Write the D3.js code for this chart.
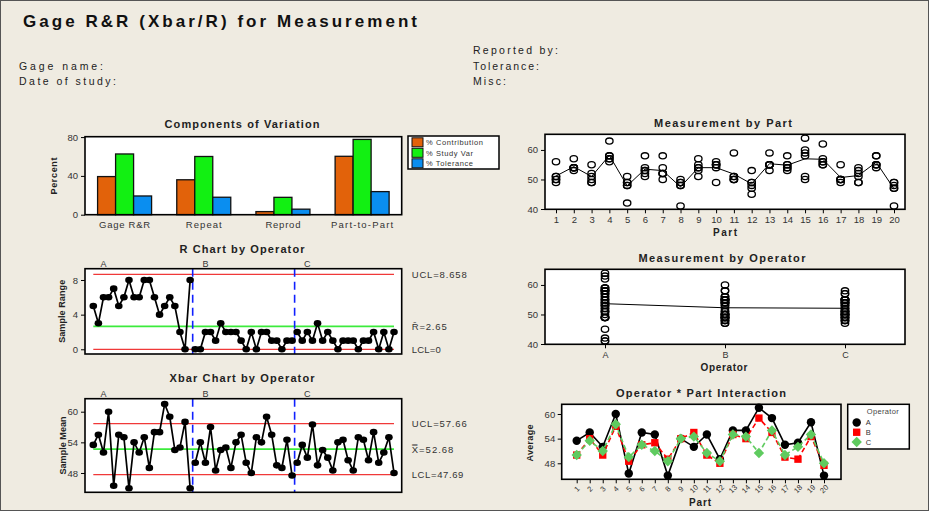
<!DOCTYPE html>
<html><head><meta charset="utf-8">
<script src="https://cdn.jsdelivr.net/npm/d3@7/dist/d3.min.js"></script>
<style>
html,body{margin:0;padding:0;background:#EFEBE1;}
svg{display:block;}
</style></head>
<body>
<svg id="chart" width="929" height="511"></svg>
<script>
// ================= DATA =================
const operators = ["A", "B", "C"];
const parts = [1,2,3,4,5,6,7,8,9,10,11,12,13,14,15,16,17,18,19,20];
const partTickLabels = ["1","2","3","4","5","6","7","8","9","10","11","12","13","14","15","16","17","18","19","20"];

const componentCategories = ["Gage R&R", "Repeat", "Reprod", "Part-to-Part"];
const componentSeries = ["% Contribution", "% Study Var", "% Tolerance"];
const pctContribution = [39.3, 36.0, 3.2, 60.2];
const pctStudyVar     = [62.6, 60.0, 17.9, 77.6];
const pctTolerance    = [19.3, 18.0, 5.7, 23.8];
const componentTicks = [0, 40, 80];

// individual measurements (2 trials per operator and part)
const trial1A = [51,54,49,57,42,53,52,41,51,49,51,45,53,54,59,56,50,52,58,41];
const trial2A = [56,57,55,63,49,58,58,49,57,55,59,53,59,58,64,62,55,54,58,49];
const trial1B = [50,54,49,56,48,51,52,48,53,55,50,47,55,53,58,55,49,49,54,47];
const trial2B = [50,54,51,58,49,54,54,50,55,56,50,49,55,55,60,56,50,49,55,48];
const trial1C = [49,53,50,57,48,52,50,48,54,54,50,48,55,54,50,55,50,51,55,47];
const trial2C = [51,54,52,58,51,53,52,49,54,55,51,49,55,55,51,57,50,53,55,49];

// subgroup means and ranges (Xbar / R charts, interaction plot)
const xbarA = [53.5,55.5,52,60,45.5,55.5,55,45,54,52,55,49,56,56,61.5,59,52.5,53,58,45];
const xbarB = [50,54,50,57,48.5,52.5,53,49,54,55.5,50,48,55,54,59,55.5,49.5,49,54.5,47.5];
const xbarC = [50,53.5,51,57.5,49.5,52.5,51,48.5,54,54.5,50.5,48.5,55,54.5,50.5,56,50,52,55,48];
const rangeA = [5,3,6,6,7,5,6,8,6,6,8,8,6,4,5,6,5,2,0,8];
const rangeB = [0,0,2,2,1,3,2,2,2,1,0,2,0,2,2,1,1,0,1,1];
const rangeC = [2,1,2,1,3,1,2,1,0,1,1,1,0,1,1,2,0,2,0,2];

const rUCL = 8.658, rCenter = 2.65, rLCL = 0;
const xUCL = 57.66, xCenter = 52.68, xLCL = 47.69;
const rTicks = [0, 4, 8];
const xbarTicks = [48, 54, 60];
const measTicks = [40, 50, 60];
const interTicks = [48, 54, 60];

// ================= DRAWING =================
const FF = "'Liberation Sans', Arial, Helvetica, sans-serif";
const svg = d3.select("#chart");
svg.append("rect").attr("width", 929).attr("height", 511).attr("fill", "#EFEBE1");
svg.append("rect").attr("x", 0.5).attr("y", 0.5).attr("width", 928).attr("height", 510)
  .attr("fill", "none").attr("stroke", "#555").attr("stroke-width", 1);

function T(x, y, s, o = {}) {
  const t = svg.append("text").attr("x", x).attr("y", y).text(s)
    .attr("font-family", FF).attr("font-size", o.size || 10)
    .attr("font-weight", o.weight || "normal")
    .attr("text-anchor", o.anchor || "start")
    .attr("fill", o.fill || "#222");
  if (o.len) t.attr("textLength", o.len).attr("lengthAdjust", "spacing");
  if (o.rotate) t.attr("transform", `rotate(${o.rotate},${x},${y})`);
  return t;
}
function bg(b) {
  svg.append("rect").attr("x", b.x0).attr("y", b.y0).attr("width", b.x1 - b.x0)
    .attr("height", b.y1 - b.y0).attr("fill", "#fff");
}
function border(b) {
  svg.append("rect").attr("x", b.x0).attr("y", b.y0).attr("width", b.x1 - b.x0)
    .attr("height", b.y1 - b.y0).attr("fill", "none").attr("stroke", "#000").attr("stroke-width", 1.6);
}
function styleAxis(g, size) {
  g.attr("font-family", FF).attr("font-size", size || 9.5);
  g.select(".domain").remove();
  g.selectAll(".tick line").attr("stroke", "#000").attr("stroke-width", 1);
  g.selectAll(".tick text").attr("fill", "#333");
}
function leftAxis(b, y, ticks, pad) {
  const g = svg.append("g").attr("transform", `translate(${b.x0},0)`)
    .call(d3.axisLeft(y).tickValues(ticks).tickSize(4).tickPadding(pad || 3));
  styleAxis(g);
}

// ---------- header ----------
T(23, 27, "Gage R&R (Xbar/R) for Measurement", {size: 17, weight: "bold", len: 394, fill: "#111"});
T(19, 70, "Gage name:", {size: 10.5, len: 84, fill: "#222"});
T(19, 85, "Date of study:", {size: 10.5, len: 97, fill: "#222"});
T(473, 54, "Reported by:", {size: 10.5, len: 85, fill: "#222"});
T(473, 70, "Tolerance:", {size: 10.5, len: 66, fill: "#222"});
T(473, 85, "Misc:", {size: 10.5, len: 33, fill: "#222"});

// ---------- Components of Variation ----------
{
  const b = {x0: 85, y0: 136.7, x1: 401.7, y1: 214.7};
  T(242, 128, "Components of Variation", {size: 11, weight: "bold", anchor: "middle", len: 155});
  bg(b);
  const x = d3.scaleBand().domain(componentCategories).range([b.x0, b.x1]);
  const xs = d3.scaleBand().domain(componentSeries).range([-27, 27]);
  const y = d3.scaleLinear().domain([0, 80.4]).range([b.y1, b.y0]);
  const colors = ["#E2620A", "#12F012", "#0A8EF0"];
  const vals = [pctContribution, pctStudyVar, pctTolerance];
  componentSeries.forEach((s, k) => {
    svg.append("g").selectAll("rect").data(componentCategories).join("rect")
      .attr("x", c => x(c) + x.bandwidth() / 2 + xs(s))
      .attr("width", xs.bandwidth())
      .attr("y", (c, i) => y(vals[k][i]))
      .attr("height", (c, i) => y(0) - y(vals[k][i]))
      .attr("fill", colors[k]).attr("stroke", "#111").attr("stroke-width", 1.3);
  });
  border(b);
  leftAxis(b, y, componentTicks);
  const lens = [51, 36, 35, 62];
  componentCategories.forEach((c, i) =>
    T(x(c) + x.bandwidth() / 2, 228.3, c, {size: 9.5, anchor: "middle", len: lens[i], fill: "#333"}));
  T(57, 176, "Percent", {size: 9, weight: "bold", anchor: "middle", rotate: -90, len: 37, fill: "#222"});
  // legend
  const lb = {x0: 408, y0: 136, x1: 499, y1: 169};
  svg.append("rect").attr("x", lb.x0).attr("y", lb.y0).attr("width", lb.x1 - lb.x0).attr("height", lb.y1 - lb.y0)
    .attr("fill", "#fff").attr("stroke", "#000").attr("stroke-width", 1.5);
  const ly = d3.scalePoint().domain(componentSeries).range([142.3, 163.3]);
  const llen = [57, 47, 47];
  componentSeries.forEach((s, k) => {
    svg.append("rect").attr("x", 412).attr("y", ly(s) - 4.5).attr("width", 11).attr("height", 9)
      .attr("fill", colors[k]).attr("stroke", "#111").attr("stroke-width", 1);
    T(426, ly(s) + 2.7, s, {size: 7.5, len: llen[k], fill: "#333"});
  });
}

// ---------- control charts ----------
const xIdx = d3.scaleLinear().domain([1, 60]).range([93.3, 394]);
function controlChart(b, y, series, ucl, cl, lcl, ticks, title, titleLen, titleY, ylab, ylabLen, labels) {
  T(242, titleY, title, {size: 11, weight: "bold", anchor: "middle", len: titleLen});
  bg(b);
  const xs0 = xIdx(1), xs1 = xIdx(60);
  [[ucl, "#F03838", 1.3], [lcl, "#F03838", 1.3], [cl, "#3CEB3C", 1.6]].forEach(([v, c, w]) =>
    svg.append("line").attr("x1", xs0).attr("x2", xs1).attr("y1", y(v)).attr("y2", y(v))
      .attr("stroke", c).attr("stroke-width", w));
  [20.5, 40.5].forEach(v =>
    svg.append("line").attr("x1", xIdx(v)).attr("x2", xIdx(v)).attr("y1", b.y0).attr("y2", b.y1)
      .attr("stroke", "#1020FF").attr("stroke-width", 1.6).attr("stroke-dasharray", "8,5"));
  series.forEach((vals, k) => {
    const pts = vals.map((v, j) => [xIdx(k * 20 + j + 1), y(v)]);
    svg.append("path").attr("d", d3.line()(pts)).attr("fill", "none")
      .attr("stroke", "#000").attr("stroke-width", 1.7);
    svg.append("g").selectAll("ellipse").data(pts).join("ellipse")
      .attr("cx", d => d[0]).attr("cy", d => d[1]).attr("rx", 3.8).attr("ry", 3.3).attr("fill", "#000");
    T(xIdx(k * 20 + 3), b.y0 - 2, operators[k], {size: 9, anchor: "middle", fill: "#333"});
  });
  border(b);
  leftAxis(b, y, ticks);
  T(65.5, (b.y0 + b.y1) / 2, ylab, {size: 9, weight: "bold", anchor: "middle", rotate: -90, len: ylabLen, fill: "#222"});
  labels.forEach(([v, s, len]) => T(411.7, y(v) + 3.5, s, {size: 9.5, len: len, fill: "#333"}));
}
{
  const b = {x0: 85, y0: 268.7, x1: 401.7, y1: 354};
  const y = d3.scaleLinear().domain([-0.543, 9.304]).range([b.y1, b.y0]);
  controlChart(b, y, [rangeA, rangeB, rangeC], rUCL, rCenter, rLCL, rTicks,
    "R Chart by Operator", 125, 253, "Sample Range", 63,
    [[rUCL, "UCL=" + rUCL, 55], [rCenter, "R\u0304=" + rCenter, 35], [rLCL, "LCL=" + rLCL, 29]]);
}
{
  const b = {x0: 85, y0: 398.7, x1: 401.7, y1: 492.3};
  const y = d3.scaleLinear().domain([44.22, 62.545]).range([b.y1, b.y0]);
  controlChart(b, y, [xbarA, xbarB, xbarC], xUCL, xCenter, xLCL, xbarTicks,
    "Xbar Chart by Operator", 145, 381.5, "Sample Mean", 58,
    [[xUCL, "UCL=" + xUCL, 55], [xCenter, "X\u033F=" + xCenter, 41.7], [xLCL, "LCL=" + xLCL, 51.7]]);
}

// ---------- Measurement by Part ----------
const trials = [[trial1A, trial2A], [trial1B, trial2B], [trial1C, trial2C]];
{
  const b = {x0: 545, y0: 134.3, x1: 905, y1: 209.3};
  T(723, 127.3, "Measurement by Part", {size: 11, weight: "bold", anchor: "middle", len: 138});
  bg(b);
  const x = d3.scaleLinear().domain([1, 20]).range([556, 894]);
  const y = d3.scaleLinear().domain([39.9, 65.3]).range([b.y1, b.y0]);
  const pts = [];
  parts.forEach((p, j) => trials.forEach(tt => tt.forEach(t => pts.push([p, t[j]]))));
  const means = parts.map((p, j) => d3.mean(pts.filter(d => d[0] === p), d => d[1]));
  svg.append("path").attr("d", d3.line()(parts.map((p, j) => [x(p), y(means[j])])))
    .attr("fill", "none").attr("stroke", "#000").attr("stroke-width", 1);
  svg.append("g").selectAll("ellipse").data(pts).join("ellipse")
    .attr("cx", d => x(d[0])).attr("cy", d => y(d[1])).attr("rx", 3.7).attr("ry", 3.1)
    .attr("fill", "none").attr("stroke", "#000").attr("stroke-width", 1.3);
  border(b);
  leftAxis(b, y, measTicks);
  const gx = svg.append("g").attr("transform", `translate(0,${b.y1})`)
    .call(d3.axisBottom(x).tickValues(parts).tickFormat((d, i) => partTickLabels[i]).tickSize(4).tickPadding(3));
  styleAxis(gx, 9.5);
  T(725, 236, "Part", {size: 10, weight: "bold", anchor: "middle", len: 24});
}

// ---------- Measurement by Operator ----------
{
  const b = {x0: 545, y0: 269.3, x1: 905, y1: 344.3};
  T(722, 262.3, "Measurement by Operator", {size: 11, weight: "bold", anchor: "middle", len: 167});
  bg(b);
  const x = d3.scalePoint().domain(operators).range([b.x0, b.x1]).padding(0.5);
  const y = d3.scaleLinear().domain([39.9, 65.3]).range([b.y1, b.y0]);
  const pts = [];
  operators.forEach((o, k) => trials[k].forEach(t => t.forEach(v => pts.push([o, v]))));
  const means = operators.map(o => d3.mean(pts.filter(d => d[0] === o), d => d[1]));
  svg.append("path").attr("d", d3.line()(operators.map((o, k) => [x(o), y(means[k])])))
    .attr("fill", "none").attr("stroke", "#000").attr("stroke-width", 1);
  svg.append("g").selectAll("ellipse").data(pts).join("ellipse")
    .attr("cx", d => x(d[0])).attr("cy", d => y(d[1])).attr("rx", 3.7).attr("ry", 3.1)
    .attr("fill", "none").attr("stroke", "#000").attr("stroke-width", 1.3);
  border(b);
  leftAxis(b, y, measTicks);
  const gx = svg.append("g").attr("transform", `translate(0,${b.y1})`)
    .call(d3.axisBottom(x).tickSize(4).tickPadding(3.5));
  styleAxis(gx, 9);
  T(724, 371, "Operator", {size: 10, weight: "bold", anchor: "middle", len: 47});
}

// ---------- Operator * Part Interaction ----------
{
  const b = {x0: 561.7, y0: 404.3, x1: 841, y1: 479.3};
  T(701, 396.7, "Operator * Part Interaction", {size: 11, weight: "bold", anchor: "middle", len: 170});
  bg(b);
  const x = d3.scaleLinear().domain([1, 20]).range([576.7, 824]);
  const y = d3.scaleLinear().domain([44.1, 62.36]).range([b.y1, b.y0]);
  const series = [xbarA, xbarB, xbarC];
  const colors = ["#000000", "#FF0000", "#5FCB5F"];
  const dashes = [null, "5,3", "5,3"];
  const syms = [d3.symbolCircle, d3.symbolSquare, d3.symbolSquare];
  const sizes = [56, 54, 54];
  const rots = [0, 0, 45];
  series.forEach((vals, k) => {
    const pts = vals.map((v, j) => [x(parts[j]), y(v)]);
    const p = svg.append("path").attr("d", d3.line()(pts)).attr("fill", "none")
      .attr("stroke", colors[k]).attr("stroke-width", 1.6);
    if (dashes[k]) p.attr("stroke-dasharray", dashes[k]);
    svg.append("g").selectAll("path").data(pts).join("path")
      .attr("d", d3.symbol().type(syms[k]).size(sizes[k]))
      .attr("transform", d => `translate(${d[0]},${d[1]}) rotate(${rots[k]})`)
      .attr("fill", colors[k]);
  });
  border(b);
  leftAxis(b, y, interTicks, 2.5);
  const gx = svg.append("g").attr("transform", `translate(0,${b.y1})`)
    .call(d3.axisBottom(x).tickValues(parts).tickFormat((d, i) => partTickLabels[i]).tickSize(4).tickPadding(3));
  styleAxis(gx, 7.5);
  gx.selectAll(".tick text").attr("dy", null).attr("y", 0)
    .attr("transform", "translate(0,10) rotate(-45)").attr("text-anchor", "middle")
    .attr("dominant-baseline", "middle");
  T(700, 506, "Part", {size: 10, weight: "bold", anchor: "middle", len: 22});
  T(533, 443, "Average", {size: 9, weight: "bold", anchor: "middle", rotate: -90, len: 37, fill: "#222"});
  // legend
  const lb = {x0: 847.7, y0: 404.3, x1: 909.3, y1: 449};
  svg.append("rect").attr("x", lb.x0).attr("y", lb.y0).attr("width", lb.x1 - lb.x0).attr("height", lb.y1 - lb.y0)
    .attr("fill", "#fff").attr("stroke", "#000").attr("stroke-width", 1.5);
  T(882.7, 414.3, "Operator", {size: 7.5, anchor: "middle", fill: "#444", len: 32});
  const ly = d3.scalePoint().domain(operators).range([422.5, 442]);
  operators.forEach((o, k) => {
    svg.append("path").attr("d", d3.symbol().type(syms[k]).size(sizes[k]))
      .attr("transform", `translate(856.7,${ly(o)}) rotate(${rots[k]})`).attr("fill", colors[k]);
    T(865.7, ly(o) + 2.7, o, {size: 7.5, fill: "#333"});
  });
}
</script>
</body></html>
